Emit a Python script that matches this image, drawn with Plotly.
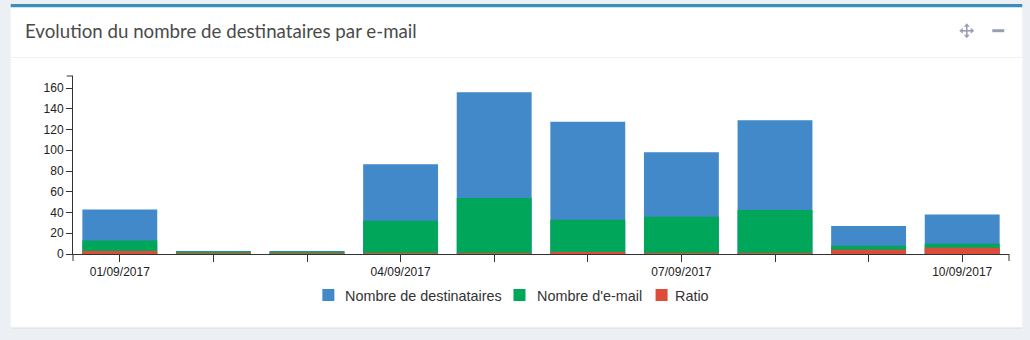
import plotly.graph_objects as go

dates = ["01/09/2017", "02/09/2017", "03/09/2017", "04/09/2017", "05/09/2017",
         "06/09/2017", "07/09/2017", "08/09/2017", "09/09/2017", "10/09/2017"]
destinataires = [43, 3, 3, 86.5, 156, 127.5, 98, 129, 27, 38]
emails = [13, 2.5, 2.5, 32, 54, 33, 36, 42.5, 8, 10]
ratio = [3, 0.4, 0.4, 0.6, 0.6, 1.5, 0.6, 0.6, 4, 6]
shown_ticks = ["01/09/2017", "04/09/2017", "07/09/2017", "10/09/2017"]
series_names = ["Nombre de destinataires", "Nombre d'e-mail", "Ratio"]
colors = ["#4189c8", "#00a65a", "#dd4b39"]

W, H = 1030, 340
L, R, T, B = 73.3, 1008.7, 76, 254
PW, PH = R - L, B - T


def px(x):
    return (x - L) / PW


def py(y):
    return (B - y) / PH


fig = go.Figure()
for name, vals, col in zip(series_names, [destinataires, emails, ratio], colors):
    fig.add_trace(go.Bar(x=dates, y=vals, name=name, marker=dict(color=col, line=dict(width=0)),
                         showlegend=False))

shapes = []
# page panel
shapes.append(dict(type="rect", xref="paper", yref="paper", x0=px(11), x1=px(1022), y0=py(328.5), y1=py(327),
                   fillcolor="#d8dce3", line=dict(width=0), layer="below"))
shapes.append(dict(type="rect", xref="paper", yref="paper", x0=px(11), x1=px(1022), y0=py(327.5), y1=py(4),
                   fillcolor="#ffffff", line=dict(width=0), layer="below"))
shapes.append(dict(type="rect", xref="paper", yref="paper", x0=px(11), x1=px(1022), y0=py(7.3), y1=py(4),
                   fillcolor="#3c8dbc", line=dict(width=0), layer="below"))
shapes.append(dict(type="line", xref="paper", yref="paper", x0=px(11), x1=px(1022), y0=py(57.5), y1=py(57.5),
                   line=dict(color="#f1f1f1", width=1), layer="below"))
# minus icon
shapes.append(dict(type="rect", xref="paper", yref="paper", x0=px(992), x1=px(1004), y0=py(32.2), y1=py(29.2),
                   fillcolor="#97a0b3", line=dict(width=0)))
# move icon
cx, cy = 966.5, 30.8
shapes.append(dict(type="line", xref="paper", yref="paper", x0=px(cx - 5), x1=px(cx + 5), y0=py(cy), y1=py(cy),
                   line=dict(color="#97a0b3", width=1.6)))
shapes.append(dict(type="line", xref="paper", yref="paper", x0=px(cx), x1=px(cx), y0=py(cy - 5), y1=py(cy + 5),
                   line=dict(color="#97a0b3", width=1.6)))
for dx, dy in [(1, 0), (-1, 0), (0, 1), (0, -1)]:
    tipx, tipy = cx + 7.5 * dx, cy + 7.5 * dy
    bx, by = cx + 4 * dx, cy + 4 * dy
    ox, oy = -dy * 3, dx * 3
    path = "M {} {} L {} {} L {} {} Z".format(px(tipx), py(tipy), px(bx + ox), py(by + oy), px(bx - ox), py(by - oy))
    shapes.append(dict(type="path", xref="paper", yref="paper", path=path, fillcolor="#97a0b3",
                       line=dict(width=0)))
# outer ticks of axes
shapes.append(dict(type="line", xref="paper", yref="paper", x0=0, x1=0, y0=0, y1=py(261),
                   line=dict(color="#333333", width=1)))
shapes.append(dict(type="line", xref="paper", yref="paper", x0=1, x1=1, y0=0, y1=py(261),
                   line=dict(color="#333333", width=1)))
shapes.append(dict(type="line", xref="paper", yref="paper", x0=px(67), x1=0, y0=1, y1=1,
                   line=dict(color="#333333", width=1)))

annotations = [dict(text="Evolution du nombre de destinataires par e-mail", xref="paper", yref="paper",
                    x=px(23), y=py(31), xanchor="left", yanchor="middle", showarrow=False,
                    font=dict(family="Lato", size=18.7, color="#4a4a4a"))]

# legend
leg_sq = [322.5, 513.5, 655.5]
leg_tx = [343, 535, 673]
for name, col, sx, tx in zip(series_names, colors, leg_sq, leg_tx):
    shapes.append(dict(type="rect", xref="paper", yref="paper", x0=px(sx), x1=px(sx + 12), y0=py(301), y1=py(289),
                       fillcolor=col, line=dict(width=0)))
    annotations.append(dict(text=name, xref="paper", yref="paper", x=px(tx), y=py(295.5), xanchor="left",
                            yanchor="middle", showarrow=False,
                            font=dict(family="Liberation Sans, Arial", size=14.4, color="#333333")))

ticktext = [d if d in shown_ticks else "" for d in dates]

fig.update_layout(
    width=W, height=H, autosize=False,
    margin=dict(l=L, r=W - R, t=T, b=H - B, pad=0),
    paper_bgcolor="#ecf0f5", plot_bgcolor="rgba(0,0,0,0)",
    barmode="overlay", bargap=0.2,
    font=dict(family="Liberation Sans, Arial", size=12, color="#222222"),
    xaxis=dict(type="category", categoryorder="array", categoryarray=dates, range=[-0.5, 9.5],
               tickmode="array", tickvals=dates, ticktext=ticktext,
               ticks="outside", ticklen=7, tickcolor="#333333", tickwidth=1,
               showline=True, linecolor="#333333", linewidth=1, showgrid=False, zeroline=False,
               tickfont=dict(size=12, color="#222222"), fixedrange=True),
    yaxis=dict(range=[0, 171.6], tickmode="array", tickvals=[0, 20, 40, 60, 80, 100, 120, 140, 160],
               ticks="outside", ticklen=6, tickcolor="#333333", tickwidth=1,
               showline=True, linecolor="#333333", linewidth=1, showgrid=False, zeroline=False,
               tickfont=dict(size=12, color="#222222"), fixedrange=True),
    shapes=shapes, annotations=annotations, showlegend=False,
)

fig.write_html("out.html", config={"displayModeBar": False})
